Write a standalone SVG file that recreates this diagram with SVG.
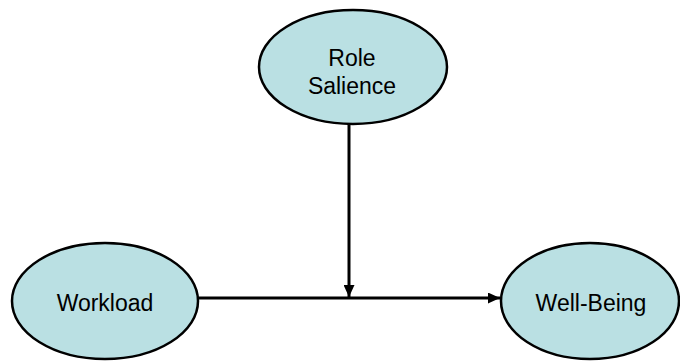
<svg xmlns="http://www.w3.org/2000/svg" width="680" height="361" viewBox="0 0 680 361">
<style>
.node ellipse{fill:#BAE0E3;stroke:#000;stroke-width:2.5}
.node text{font-family:"Liberation Sans",Arial,sans-serif;font-size:23px;fill:#000;text-anchor:middle}
.edge{stroke:#000;stroke-width:3;fill:none}
</style>
<defs>
<marker id="ah" markerUnits="userSpaceOnUse" markerWidth="13" markerHeight="11" refX="12" refY="5.5" orient="auto">
<path d="M0,0 L12,5.5 L0,11 Z" fill="#000"/>
</marker>
</defs>
<rect width="680" height="361" fill="#fff"/>
<g id="connectors">
<line class="edge" x1="198" y1="298" x2="500" y2="298" marker-end="url(#ah)"/>
<line class="edge" x1="349" y1="124" x2="349" y2="297" marker-end="url(#ah)"/>
</g>
<g id="role-salience" class="node">
<ellipse cx="353" cy="67" rx="94" ry="57"/>
<text x="352" y="66">Role</text>
<text x="352" y="94">Salience</text>
</g>
<g id="workload" class="node">
<ellipse cx="105" cy="301" rx="93" ry="58"/>
<text x="105" y="311">Workload</text>
</g>
<g id="well-being" class="node">
<ellipse cx="590" cy="301" rx="89" ry="58"/>
<text x="591" y="311">Well-Being</text>
</g>
</svg>
